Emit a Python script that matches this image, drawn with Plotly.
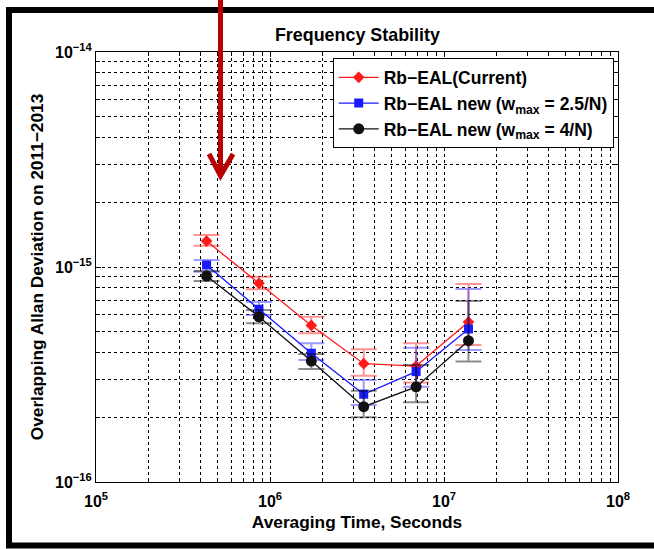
import plotly.graph_objects as go

# ---- data ----
tau = [432000, 864000, 1728000, 3456000, 6912000, 13824000]

red_y = [1.32e-15, 8.40e-16, 5.35e-16, 3.55e-16, 3.46e-16, 5.55e-16]
red_hi = [1.41e-15, 9.01e-16, 5.87e-16, 4.14e-16, 4.42e-16, 8.34e-16]
red_lo = [1.256e-15, 7.87e-16, 4.92e-16, 3.12e-16, 2.90e-16, 4.34e-16]

blue_y = [1.022e-15, 6.36e-16, 3.97e-16, 2.56e-16, 3.26e-16, 5.15e-16]
blue_hi = [1.078e-15, 6.87e-16, 4.42e-16, 2.98e-16, 4.21e-16, 7.90e-16]
blue_lo = [9.51e-16, 5.98e-16, 3.69e-16, 2.28e-16, 2.77e-16, 4.11e-16]

black_y = [9.08e-16, 5.87e-16, 3.65e-16, 2.24e-16, 2.77e-16, 4.54e-16]
black_hi = [9.58e-16, 6.31e-16, 3.94e-16, 2.66e-16, 3.50e-16, 6.95e-16]
black_lo = [8.61e-16, 5.47e-16, 3.35e-16, 2.00e-16, 2.35e-16, 3.63e-16]

names = ["Rb\u2212EAL(Current)",
         "Rb\u2212EAL new (w<sub>max</sub> = 2.5/N)",
         "Rb\u2212EAL new (w<sub>max</sub> = 4/N)"]

x_tickvals = [1e5, 1e6, 1e7, 1e8]
x_ticktext = ["10<sup>5</sup>", "10<sup>6</sup>", "10<sup>7</sup>", "10<sup>8</sup>"]
y_tickvals = [1e-16, 1e-15, 1e-14]
y_ticktext = ["10<sup>\u221216</sup>", "10<sup>\u221215</sup>", "10<sup>\u221214</sup>"]

FONT = "Liberation Sans"

series = [
    (names[0], red_y, red_hi, red_lo, "#ff1a1a", "diamond", 9, "rgba(255,60,60,0.55)", 1.3),
    (names[1], blue_y, blue_hi, blue_lo, "#1a1aff", "square", 9, "rgba(60,60,255,0.5)", 1.3),
    (names[2], black_y, black_hi, black_lo, "#111111", "circle", 11, "rgba(0,0,0,0.45)", 1.3),
]

fig = go.Figure()
for name, y, hi, lo, col, sym, ms, ecol, lw in series:
    fig.add_trace(go.Scatter(
        x=tau, y=y, name=name, mode="lines+markers",
        line=dict(color=col, width=lw),
        marker=dict(symbol=sym, size=ms, color=col),
        error_y=dict(type="data", symmetric=False,
                     array=[h - v for h, v in zip(hi, y)],
                     arrayminus=[v - l for v, l in zip(y, lo)],
                     color=ecol, thickness=2, width=13),
    ))

grid = dict(showgrid=True, gridcolor="black", gridwidth=1, griddash="3px,3px")

fig.update_xaxes(
    type="log", range=[5, 8], tickmode="array", tickvals=x_tickvals, ticktext=x_ticktext,
    ticks="inside", ticklen=5, tickcolor="black", mirror="ticks", showline=True,
    linecolor="black", linewidth=1, zeroline=False,
    tickfont=dict(family=FONT, size=16, color="black", weight="bold"),
    ticklabelstandoff=5,
    minor=dict(dtick="D1", ticks="inside", ticklen=4, tickcolor="black",
               showgrid=True, gridcolor="black", gridwidth=1, griddash="3px,3px"),
    title=dict(text="Averaging Time, Seconds", standoff=6,
               font=dict(family=FONT, size=17.3, color="black", weight="bold")),
    **grid,
)
fig.update_yaxes(
    type="log", range=[-16, -14], tickmode="array", tickvals=y_tickvals, ticktext=y_ticktext,
    ticks="inside", ticklen=5, tickcolor="black", mirror="ticks", showline=True,
    linecolor="black", linewidth=1, zeroline=False,
    tickfont=dict(family=FONT, size=16, color="black", weight="bold"),
    minor=dict(dtick="D1", ticks="inside", ticklen=4, tickcolor="black",
               showgrid=True, gridcolor="black", gridwidth=1, griddash="3px,3px"),
    title=dict(text="Overlapping Allan Deviation on 2011\u22122013", standoff=6,
               font=dict(family=FONT, size=17.3, color="black", weight="bold")),
    **grid,
)

# frame and arrow (paper coordinates)
shapes = [
    dict(type="rect", xref="paper", yref="paper", x0=-0.1667, x1=1.085, y0=-0.1477, y1=1.0977,
         line=dict(color="black", width=6), fillcolor="rgba(0,0,0,0)", layer="above"),
    dict(type="line", xref="paper", yref="paper", x0=0.2385, x1=0.2385, y0=1.13, y1=0.715,
         line=dict(color="rgb(185,0,0)", width=5), layer="above"),
    dict(type="path", xref="paper", yref="paper",
         path="M 0.2165,0.763 L 0.2385,0.712 L 0.2625,0.763",
         line=dict(color="rgb(185,0,0)", width=5), layer="above"),
]

fig.update_layout(
    width=654, height=549,
    margin=dict(l=96, r=36, t=52, b=67),
    paper_bgcolor="white", plot_bgcolor="white",
    font=dict(family=FONT, color="black"),
    title=dict(text="Frequency Stability", x=0.5465, xanchor="center", y=1 - 34.5 / 549,
               yanchor="middle", yref="container",
               font=dict(family=FONT, size=17.9, color="black", weight="bold")),
    legend=dict(x=0.4535, y=0.985, xanchor="left", yanchor="top",
                bgcolor="white", bordercolor="black", borderwidth=1,
                font=dict(family=FONT, size=17.5, color="black", weight="bold"),
                itemwidth=40, tracegroupgap=0),
    shapes=shapes,
    showlegend=True,
)

fig.write_html("out.html", config={"displayModeBar": False},
               post_script="document.body.style.margin='0';")
